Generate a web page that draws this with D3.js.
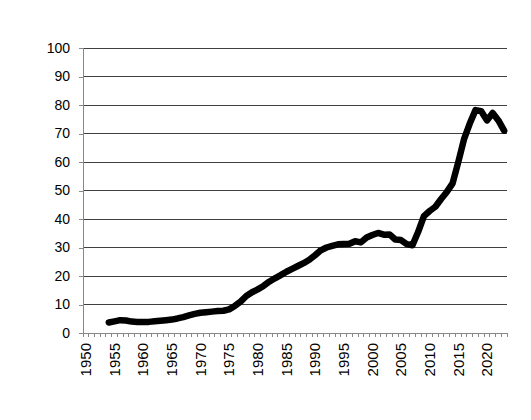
<!DOCTYPE html>
<html>
<head>
<meta charset="utf-8">
<script src="https://cdn.jsdelivr.net/npm/d3@7"></script>
<style>
  body { margin: 0; background: #fff; }
  svg text { font-family: "Liberation Sans", Arial, sans-serif; fill: #000; }
</style>
</head>
<body>
<script>
// category axis runs 1950..2023, data starts 1954
var axisYears = d3.range(1950, 2024);
var years = d3.range(1954, 2024);
var values = [
  3.7, 4.1, 4.5, 4.4, 4.0, 3.9, 3.9, 3.9, 4.1, 4.3,   // 1954-1963
  4.5, 4.7, 5.1, 5.6, 6.2, 6.7, 7.1, 7.3, 7.5, 7.7,   // 1964-1973
  7.8, 8.3, 9.5, 11.0, 13.0, 14.3, 15.3, 16.5, 18.0, 19.2, // 1974-1983
  20.3, 21.5, 22.5, 23.5, 24.5, 25.7, 27.3, 29.0, 30.0, 30.6, // 1984-1993
  31.1, 31.2, 31.3, 32.2, 31.8, 33.5, 34.4, 35.1, 34.5, 34.6, // 1994-2003
  32.8, 32.6, 31.2, 30.8, 35.5, 41.0, 42.8, 44.3, 47.0, 49.5, // 2004-2013
  52.5, 60.0, 68.0, 73.5, 78.2, 77.8, 74.6, 77.2, 74.6, 71.0  // 2014-2023
];
var yTicks = [0, 10, 20, 30, 40, 50, 60, 70, 80, 90, 100];
var xLabels = d3.range(1950, 2024, 5);

var width = 531, height = 420;
var plotLeft = 83, plotRight = 507, plotTop = 48, plotBottom = 333;

var svg = d3.select("body").append("svg")
  .attr("width", width)
  .attr("height", height);

var x = d3.scaleBand().domain(axisYears).range([plotLeft, plotRight]).padding(0);
var y = d3.scaleLinear().domain([0, 100]).range([plotBottom, plotTop]);

// gridlines
svg.append("g")
  .selectAll("line")
  .data(yTicks.filter(function(d) { return d > 0; }))
  .join("line")
  .attr("x1", plotLeft).attr("x2", plotRight)
  .attr("y1", function(d) { return y(d); })
  .attr("y2", function(d) { return y(d); })
  .attr("stroke", "#404040")
  .attr("stroke-width", 1)
  .attr("shape-rendering", "crispEdges");

// y axis
var yAxis = svg.append("g")
  .attr("transform", "translate(" + plotLeft + ",0)")
  .call(d3.axisLeft(y).tickValues(yTicks).tickSize(4).tickPadding(9));
yAxis.select(".domain").attr("stroke", "#888").attr("shape-rendering", "crispEdges");
yAxis.selectAll(".tick line").attr("stroke", "#888").attr("shape-rendering", "crispEdges");
yAxis.selectAll("text")
  .attr("font-family", null)
  .style("font-size", "14px");

// x axis: ticks between categories
var xAxisG = svg.append("g");
xAxisG.append("line")
  .attr("x1", plotLeft).attr("x2", plotRight)
  .attr("y1", plotBottom).attr("y2", plotBottom)
  .attr("stroke", "#888")
  .attr("shape-rendering", "crispEdges");
xAxisG.selectAll("line.tk")
  .data(axisYears.concat([2024]))
  .join("line")
  .attr("class", "tk")
  .attr("x1", function(d) { return d < 2024 ? x(d) : plotRight; })
  .attr("x2", function(d) { return d < 2024 ? x(d) : plotRight; })
  .attr("y1", plotBottom).attr("y2", plotBottom + 4)
  .attr("stroke", "#888")
  .attr("shape-rendering", "crispEdges");
xAxisG.selectAll("text")
  .data(xLabels)
  .join("text")
  .attr("transform", function(d) {
    return "translate(" + (x(d) + x.bandwidth() / 2) + "," + (plotBottom + 10) + ") rotate(-90)";
  })
  .attr("text-anchor", "end")
  .attr("dy", "0.35em")
  .style("font-size", "15px")
  .text(function(d) { return d; });

// data line
var line = d3.line()
  .x(function(d, i) { return x(years[i]) + x.bandwidth() / 2; })
  .y(function(d) { return y(d); });

svg.append("path")
  .datum(values)
  .attr("d", line)
  .attr("fill", "none")
  .attr("stroke", "#000")
  .attr("stroke-width", 6.5)
  .attr("stroke-linejoin", "round")
  .attr("stroke-linecap", "round");
</script>
</body>
</html>
